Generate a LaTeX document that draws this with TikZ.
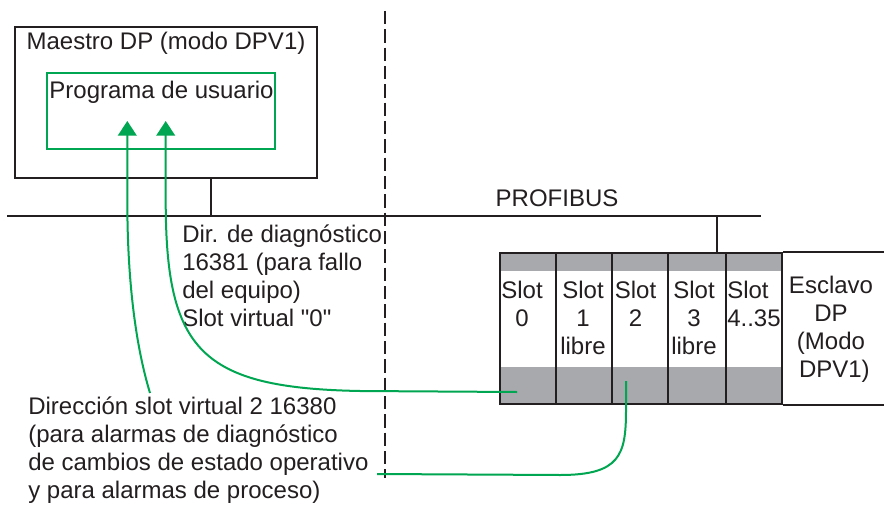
\documentclass[tikz,border=0pt]{standalone}
\usepackage{fontspec}
\setmainfont{Liberation Sans}[Ligatures=TeXOff]
\usetikzlibrary{arrows.meta}
\definecolor{ink}{HTML}{231F20}
\definecolor{sgreen}{HTML}{00A651}
\definecolor{sgrey}{HTML}{A7A9AC}
\newcommand\firststrut{\rule{0pt}{14pt}}
\begin{document}
\begin{tikzpicture}[x=0.75pt,y=-0.75pt,
  lbl/.style={font=\fontsize{18}{21}\selectfont, text=ink, inner sep=0pt},
  blk/.style={draw=ink, line width=1.5pt},
  gline/.style={draw=sgreen, line width=1.5pt},
  garrow/.style={gline, -{Triangle[length=11pt,width=14pt]}},
  slotbox/.style={draw=ink, line width=1.5pt, minimum width=#1, minimum height=113.25pt, inner sep=0pt}
]
\fill[white] (0,0) rectangle (884,506);
\useasboundingbox (0,0) rectangle (884,506);

% master
\node[blk, minimum width=226.5pt, minimum height=113.25pt, inner sep=0pt] (master) at (166,102.5) {};
\node[lbl, anchor=base] (mtitle) at (166,50) {Maestro DP (modo DPV1)};
\node[draw=sgreen, line width=1.2pt, minimum width=171pt, minimum height=57pt, inner sep=0pt] (prog) at (161,111) {};
\node[lbl, anchor=base] (progt) at (161.5,99) {Programa de usuario};

% bus
\coordinate (busL) at (7,216);
\coordinate (busR) at (761,216);
\draw[blk] (busL) -- (busR);
\coordinate (mtap) at (211,216);
\draw[blk] (mtap) -- (mtap |- master.south);
\node[lbl, anchor=base] (pb) at (557,206) {PROFIBUS};

% dashed separator
\coordinate (dTop) at (385,11);
\coordinate (dBot) at (385,478);
\draw[ink, line width=1.5pt, dash pattern=on 10pt off 3.75pt] (dTop) -- (dBot);

% slave
\fill[sgrey] (500,253) rectangle (782,271);
\fill[sgrey] (500,367) rectangle (782,404);
\node[slotbox=42pt] (s0) at (528,328.5) {};
\node[slotbox=42pt] (s1) at (584,328.5) {};
\node[slotbox=42pt] (s2) at (640,328.5) {};
\node[slotbox=43.5pt] (s3) at (697,328.5) {};
\node[slotbox=42pt] (s4) at (754,328.5) {};
\draw[blk] (s4.north east) -- ++(102,0);
\draw[blk] (s4.south east) -- ++(102,0);
\coordinate (stap) at (717,216);
\draw[blk] (stap) -- (stap |- s3.north);

\node[lbl, anchor=north, align=center] (t0) at (522,279.3) {\firststrut Slot\\0};
\node[lbl, anchor=north, align=center] (t1) at (583,279.3) {\firststrut Slot\\1\\libre};
\node[lbl, anchor=north, align=center] (t2) at (635.5,279.3) {\firststrut Slot\\2};
\node[lbl, anchor=north, align=center] (t3) at (694,279.3) {\firststrut Slot\\3\\libre};
\node[lbl, anchor=north west, align=left] (t4) at (727,279.3) {\firststrut Slot\\4..35};
\node[lbl, anchor=north, align=center] (tesc) at (831,274.3) {\firststrut Esclavo\\DP\\(Modo\\~DPV1)};

% labels
\node[lbl, anchor=north west, align=left] (diag) at (182,223.3) {\firststrut Dir. de diagnóstico\\16381 (para fallo\\del equipo)\\Slot virtual "0"};
\node[lbl, anchor=north west, align=left] (dirv) at (28,395.3) {\firststrut Dirección slot virtual 2 16380\\(para alarmas de diagnóstico\\de cambios de estado operativo\\y para alarmas de proceso)};

% green connectors
\coordinate (tipA) at (127.3,121);
\coordinate (tipB) at (165.7,121);
\coordinate (lblA) at (150,393);
\coordinate (s0p) at (517,392);
\coordinate (s2p) at (626,381);
\coordinate (endC) at (377,474);
\draw[garrow] (lblA) .. controls (140,360) and (127.3,300) .. (127.3,200) -- (tipA);
\draw[garrow] (s0p) -- (360,391) .. controls (200,388) and (165.7,350) .. (165.7,200) -- (tipB);
\draw[gline] (s2p) -- (626,410) .. controls (626,455) and (620,475) .. (560,475) -- (endC);
\end{tikzpicture}
\end{document}
